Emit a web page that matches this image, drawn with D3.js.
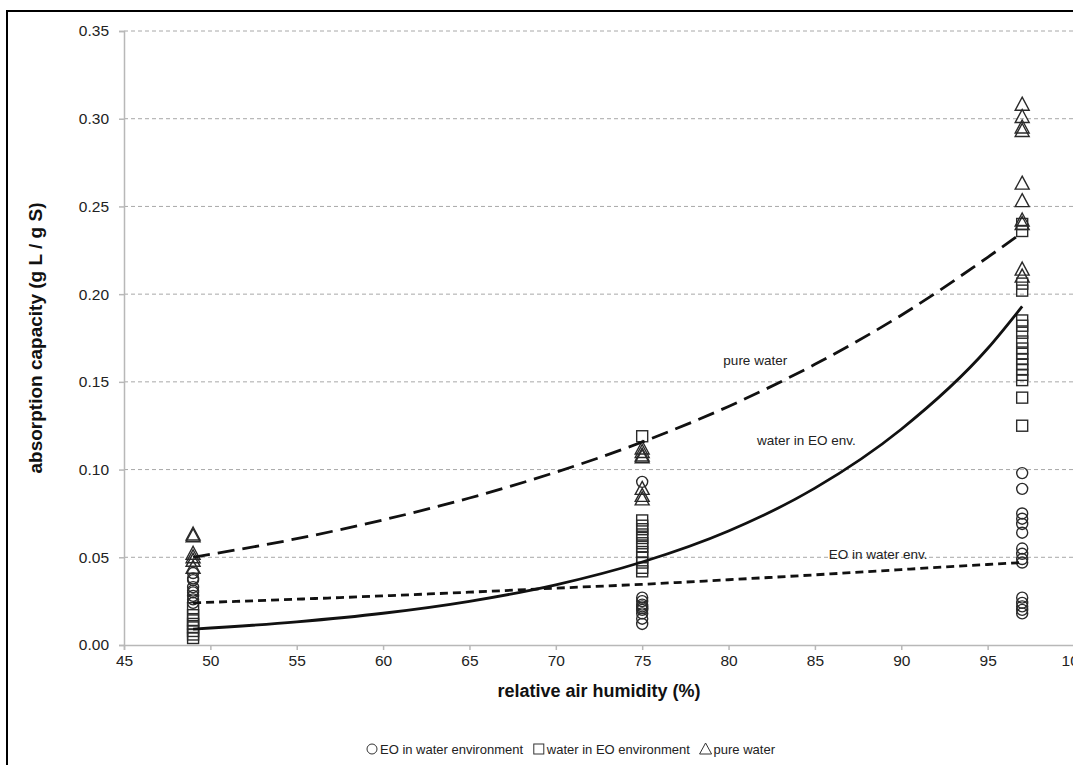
<!DOCTYPE html>
<html>
<head>
<meta charset="utf-8">
<script src="https://cdn.jsdelivr.net/npm/d3@7"></script>
<style>
  html, body { margin: 0; padding: 0; background: #fff; }
  svg { display: block; font-family: "Liberation Sans", Arial, sans-serif; }
</style>
</head>
<body>
<svg id="chart" width="1073" height="765"></svg>
<script>
// ---- data ----
const xTicks = [45, 50, 55, 60, 65, 70, 75, 80, 85, 90, 95, 100];
const yTicks = [0, 0.05, 0.10, 0.15, 0.20, 0.25, 0.30, 0.35];

// EO in water environment (circles)
const eoInWater49 = [0.041, 0.038, 0.037, 0.033, 0.031, 0.030, 0.028, 0.026, 0.024];
const eoInWater75 = [0.093, 0.027, 0.025, 0.023, 0.022, 0.021, 0.020, 0.018, 0.015, 0.012];
const eoInWater97 = [0.098, 0.089, 0.075, 0.072, 0.069, 0.064, 0.055, 0.052, 0.049, 0.047, 0.027, 0.024, 0.022, 0.020, 0.018];

// water in EO environment (squares)
const waterInEO49 = [0.021, 0.017, 0.014, 0.012, 0.010, 0.008, 0.006, 0.004];
const waterInEO75 = [0.119, 0.071, 0.068, 0.066, 0.063, 0.061, 0.058, 0.056, 0.053, 0.050, 0.047, 0.044, 0.042];
const waterInEO97 = [0.240, 0.236, 0.206, 0.202, 0.185, 0.182, 0.178, 0.173, 0.169, 0.166, 0.163, 0.160, 0.157, 0.154, 0.151, 0.141, 0.125];

// pure water (triangles)
const pureWater49 = [0.063, 0.062, 0.052, 0.050, 0.048, 0.044];
const pureWater75 = [0.112, 0.110, 0.108, 0.107, 0.089, 0.085, 0.083];
const pureWater97 = [0.308, 0.301, 0.295, 0.293, 0.263, 0.253, 0.242, 0.240, 0.214, 0.210];

// trend lines, points
const trendX = [49, 55, 60, 65, 70, 75, 80, 85, 90, 95, 97];
const trendPure = [0.050, 0.0606, 0.0713, 0.0838, 0.0985, 0.1157, 0.136, 0.160, 0.188, 0.221, 0.235];
const trendWaterEO = [0.009, 0.0132, 0.0181, 0.0249, 0.0343, 0.0473, 0.065, 0.0894, 0.123, 0.169, 0.193];
const trendEOWater = [0.024, 0.0261, 0.028, 0.0301, 0.0324, 0.0346, 0.0372, 0.040, 0.043, 0.0459, 0.047];

const legendLabels = ["EO in water environment", "water in EO environment", "pure water"];

// ---- drawing ----
(function () {
const svg = d3.select("#chart");
const pL = 124, pR = 1074, pT = 31, pB = 645;

const x = d3.scaleLinear().domain([45, 100]).range([pL, pR]);
const y = d3.scaleLinear().domain([0, 0.35]).range([pB, pT]);

// outer frame
svg.append("rect").attr("x", 7).attr("y", 11).attr("width", 1100).attr("height", 800)
  .attr("fill", "none").attr("stroke", "#000").attr("stroke-width", 2);

// gridlines
svg.append("g").selectAll("line").data(yTicks.filter(d => d > 0)).join("line")
  .attr("x1", pL).attr("x2", pR).attr("y1", d => y(d)).attr("y2", d => y(d))
  .attr("stroke", "#a8a8a8").attr("stroke-width", 1).attr("stroke-dasharray", "4,3");

// axes
const yAxis = svg.append("g").attr("transform", `translate(${pL},0)`)
  .call(d3.axisLeft(y).tickValues(yTicks).tickFormat(d3.format(".2f")).tickSizeOuter(0).tickSize(5).tickPadding(10));
const xAxis = svg.append("g").attr("transform", `translate(0,${pB})`)
  .call(d3.axisBottom(x).tickValues(xTicks).tickFormat(d3.format("d")).tickSizeOuter(0).tickSize(5).tickPadding(5));
[yAxis, xAxis].forEach(g => {
  g.select(".domain").attr("stroke", "#b8b8b8").attr("stroke-width", 1.5);
  g.selectAll(".tick line").attr("stroke", "#b8b8b8").attr("stroke-width", 1.5);
  g.selectAll(".tick text").attr("fill", "#222").attr("font-size", 15.5)
    .attr("font-family", "'Liberation Sans', Arial, sans-serif");
});

// axis titles
svg.append("text").attr("x", 599).attr("y", 697).attr("text-anchor", "middle")
  .attr("font-size", 18).attr("font-weight", "bold").attr("fill", "#111")
  .text("relative air humidity (%)");
svg.append("text").attr("transform", "translate(42,338) rotate(-90)").attr("text-anchor", "middle")
  .attr("font-size", 19).attr("font-weight", "bold").attr("fill", "#111")
  .text("absorption capacity (g L / g S)");

// markers
function pts(xv, arr) { return arr.map(v => ({ x: xv, y: v })); }
const circles = [].concat(pts(49, eoInWater49), pts(75, eoInWater75), pts(97, eoInWater97));
const squares = [].concat(pts(49, waterInEO49), pts(75, waterInEO75), pts(97, waterInEO97));
const triangles = [].concat(pts(49, pureWater49), pts(75, pureWater75), pts(97, pureWater97));

const mk = svg.append("g").attr("fill", "none").attr("stroke", "#2a2a2a").attr("stroke-width", 1.4);
mk.selectAll("circle.c").data(circles).join("circle")
  .attr("cx", d => x(d.x)).attr("cy", d => y(d.y)).attr("r", 5.5);
mk.selectAll("rect.s").data(squares).join("rect")
  .attr("x", d => x(d.x) - 5.5).attr("y", d => y(d.y) - 5.5).attr("width", 11).attr("height", 11);
mk.selectAll("path.t").data(triangles).join("path")
  .attr("d", d => { const cx = x(d.x), cy = y(d.y); return `M${cx},${cy - 7.5}L${cx + 7},${cy + 5.5}L${cx - 7},${cy + 5.5}Z`; });

// trend lines
const line = d3.line().x(d => x(d[0])).y(d => y(d[1])).curve(d3.curveMonotoneX);
svg.append("path").attr("d", line(trendX.map((v, i) => [v, trendPure[i]])))
  .attr("fill", "none").attr("stroke", "#111").attr("stroke-width", 2.8).attr("stroke-dasharray", "17,8");
svg.append("path").attr("d", line(trendX.map((v, i) => [v, trendWaterEO[i]])))
  .attr("fill", "none").attr("stroke", "#111").attr("stroke-width", 2.8);
svg.append("path").attr("d", line(trendX.map((v, i) => [v, trendEOWater[i]])))
  .attr("fill", "none").attr("stroke", "#111").attr("stroke-width", 2.8).attr("stroke-dasharray", "8,5");

// curve labels
const lab = svg.append("g").attr("font-size", 13.5).attr("fill", "#222");
lab.append("text").attr("x", x(79.7)).attr("y", y(0.1596)).text("pure water");
lab.append("text").attr("x", x(81.65)).attr("y", y(0.114)).text("water in EO env.");
lab.append("text").attr("x", x(85.8)).attr("y", y(0.049)).text("EO in water env.");

// legend (laid out sequentially between 367 and 775)
const lg = svg.append("g").attr("font-size", 13).attr("fill", "#222");
const legY = 754, legStart = 367, legEnd = 775, symW = 13;
const shapes = ["c", "s", "t"];
const texts = legendLabels.map(t => lg.append("text").attr("y", legY).text(t));
const widths = texts.map(t => t.node().getComputedTextLength());
const gap = Math.max(8, (legEnd - legStart - d3.sum(widths) - symW * 3) / 2);
let cur = legStart;
shapes.forEach((s, i) => {
  const cx = cur + 5, cy = legY - 5;
  if (s === "c") lg.append("circle").attr("cx", cx).attr("cy", cy).attr("r", 5);
  if (s === "s") lg.append("rect").attr("x", cx - 5).attr("y", cy - 5).attr("width", 10).attr("height", 10);
  if (s === "t") lg.append("path").attr("d", `M${cx},${cy - 6}L${cx + 6},${cy + 5}L${cx - 6},${cy + 5}Z`);
  texts[i].attr("x", cur + symW);
  cur += symW + widths[i] + gap;
});
lg.selectAll("circle,rect,path").attr("fill", "none").attr("stroke", "#333").attr("stroke-width", 1);
})();
</script>
</body>
</html>
